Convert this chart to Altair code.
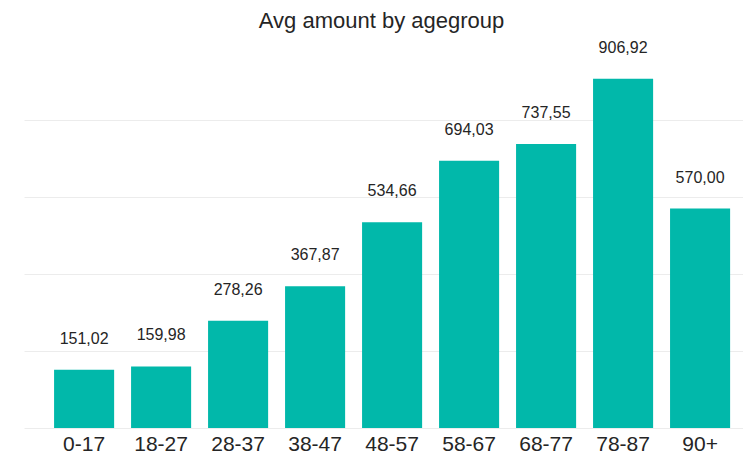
import altair as alt
import pandas as pd

age_groups = ["0-17", "18-27", "28-37", "38-47", "48-57", "58-67", "68-77", "78-87", "90+"]
avg_amount = [151.02, 159.98, 278.26, 367.87, 534.66, 694.03, 737.55, 906.92, 570.00]

df = pd.DataFrame({"agegroup": age_groups, "amount": avg_amount})

FONT = "Liberation Sans"
TXT = "#252525"

x_enc = alt.X(
    "agegroup:N",
    sort=age_groups,
    title=None,
    scale=alt.Scale(paddingInner=0.22, paddingOuter=0.279, align=0.70),
    axis=alt.Axis(
        labelAngle=0, labelFontSize=21, labelFont=FONT, labelColor=TXT,
        ticks=False, domain=False, labelPadding=5, grid=False,
    ),
)
y_enc = alt.Y(
    "amount:Q",
    title=None,
    scale=alt.Scale(domain=[0, 1000], nice=False),
    axis=alt.Axis(
        values=[0, 200, 400, 600, 800], labels=False, ticks=False, domain=False,
        grid=True, gridColor="#ececec", gridWidth=1,
    ),
)

base = alt.Chart(df).encode(x=x_enc, y=y_enc)

bars = base.mark_bar(color="#01B8AA")
labels = base.transform_calculate(
    label="replace(format(datum.amount, '.2f'), '.', ',')"
).mark_text(
    dy=-26, baseline="alphabetic", align="center", fontSize=16, font=FONT, color=TXT
).encode(text="label:N")

chart = (
    alt.layer(bars, labels)
    .properties(
        width=719,
        height=385,
        autosize=alt.AutoSizeParams(type="none"),
        padding={"left": 16, "top": 35, "right": 0, "bottom": 28},
        title=alt.TitleParams(
            "Avg amount by agegroup", fontSize=22, font=FONT, fontWeight="normal",
            color=TXT, anchor="middle", offset=7, dx=-2,
        ),
    )
    .configure_view(stroke=None)
)

chart.save("out.html", embed_options={"renderer": "svg", "actions": False})
